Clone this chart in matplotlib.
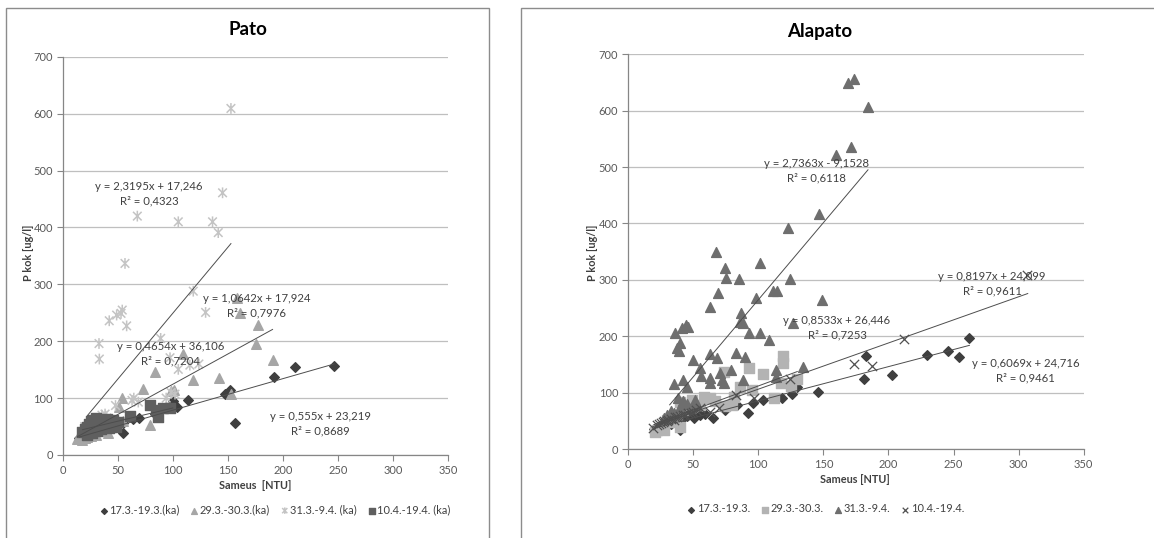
import matplotlib
matplotlib.use("Agg")
import matplotlib.pyplot as plt
from matplotlib.patches import Rectangle
from matplotlib.path import Path
import numpy as np

plt.rcParams['font.family'] = ['Lato', 'DejaVu Sans']

# ---------------- Pato (left) ----------------
pato_labels = ["17.3.-19.3.(ka)", "29.3.-30.3.(ka)", "31.3.-9.4. (ka)", "10.4.-19.4. (ka)"]

pato_d_x = [246.5, 210.8, 192.1, 156.4, 151.8, 147.3, 113.4, 103.4, 100.0, 85.0, 83.8, 69.6, 63.7, 54.5, 55.0, 44.0,
            15, 18, 20, 22, 25, 28, 30, 33, 35, 38, 40, 42, 45, 48]
pato_d_y = [156.4, 154.0, 137.0, 56.8, 114.0, 108.0, 96.7, 85.0, 95.0, 75.6, 72.0, 65.0, 63.4, 55.7, 39.0, 47.0,
            30, 35, 38, 40, 42, 45, 40, 48, 42, 50, 45, 52, 48, 55]

pato_t_x = [158.5, 160.9, 177.0, 175.5, 190.6, 141.9, 118.6, 108.9, 83.8, 72.6, 53.5, 51.4, 79.3, 98.0, 101.0, 152.8, 41.4,
            13, 15, 16, 18, 19, 20, 22, 24, 26, 28, 30, 35, 38, 45, 48, 55]
pato_t_y = [276.5, 249.0, 228.5, 194.5, 166.4, 136.0, 131.8, 178.0, 146.5, 115.4, 100.8, 83.8, 52.1, 112.0, 114.0, 108.0, 39.0,
            28, 30, 33, 27, 35, 30, 32, 38, 34, 40, 36, 42, 45, 50, 52, 60]

pato_c_x = [152.8, 145.2, 67.8, 105.0, 136.1, 141.3, 56.6, 118.6, 129.8, 54.1, 53.0, 49.0, 42.3, 58.1, 33.0, 33.3,
            89.0, 97.5, 105.0, 115.5, 123.7, 102.0, 98.4, 94.0, 64.6, 48.0, 63.0, 68.7, 35.7, 38.5, 20, 25, 30, 40, 45, 25]
pato_c_y = [609.3, 461.0, 420.0, 410.0, 410.0, 391.0, 336.8, 288.0, 250.7, 254.8, 249.0, 246.0, 236.0, 227.0, 196.0, 168.7,
            205.0, 171.0, 150.6, 158.0, 160.0, 107.0, 110.0, 100.0, 100.0, 87.0, 96.0, 93.0, 70.0, 72.0, 50, 55, 60, 65, 62, 45]

pato_s_x = [20, 22, 24, 25, 26, 28, 28, 30, 30, 32, 33, 34, 35, 36, 38, 40, 40, 42, 43, 45, 46, 48, 50, 18, 22, 27, 31,
            61.0, 79.7, 85.0, 86.5, 91.0, 97.5]
pato_s_y = [45, 50, 55, 42, 60, 48, 62, 55, 65, 50, 58, 62, 45, 55, 60, 52, 63, 48, 58, 55, 62, 50, 58, 40, 36, 38, 42,
            69.0, 88.0, 79.0, 67.0, 82.0, 82.0]

pato_fits = [  # slope, intercept, xmin, xmax, text x, text y, label
    (0.555, 23.219, 15, 246.5, 234, 55.6, "y = 0,555x + 23,219\nR² = 0,8689"),
    (1.0642, 17.924, 13, 190.6, 176, 262, "y = 1,0642x + 17,924\nR² = 0,7976"),
    (2.3195, 17.246, 22.4, 152.8, 78.3, 460, "y = 2,3195x + 17,246\nR² = 0,4323"),
    (0.4654, 36.106, 18, 100, 98.3, 178.7, "y = 0,4654x + 36,106\nR² = 0,7204"),
]

# ---------------- Alapato (right) ----------------
ala_labels = ["17.3.-19.3.", "29.3.-30.3.", "31.3.-9.4.", "10.4.-19.4."]

ala_d_x = [262.2, 254.0, 245.5, 229.7, 202.5, 183.0, 181.5, 146.0, 129.8, 126.0, 118.3, 103.4, 95.8, 92.2, 83.7, 74.2,
           65.3, 59.4, 50.4, 40.2, 20, 24, 27, 30, 33, 36, 42, 45, 55]
ala_d_y = [196.3, 164.0, 174.0, 166.8, 130.7, 165.0, 123.6, 101.7, 109.4, 97.6, 91.0, 87.0, 81.0, 63.0, 78.6, 69.0,
           54.4, 61.5, 54.4, 33.7, 35, 40, 44, 47, 45, 50, 55, 58, 60]

ala_s_x = [118.8, 118.8, 92.7, 103.4, 73.5, 129.8, 117.6, 111.9, 95.2, 86.3, 81.2, 74.8, 63.2, 49.2, 40.2, 40.2,
           27.4, 20.5, 30.0, 22, 25, 33, 35, 38, 42, 45, 55, 58, 67, 80, 125]
ala_s_y = [165.0, 152.0, 143.0, 133.0, 137.0, 123.6, 116.5, 91.0, 104.7, 110.6, 92.8, 76.3, 89.9, 87.0, 84.0, 39.6,
           33.7, 30.7, 51.0, 34, 38, 48, 55, 60, 70, 75, 78, 92, 85, 78, 112]

ala_t_x = [173.8, 168.7, 184.3, 171.3, 159.8, 147.0, 123.1, 67.8, 101.4, 74.8, 75.5, 85.5, 124.7, 68.9, 111.1, 114.2,
           98.0, 149.2, 63.2, 86.5, 88.0, 85.8, 35.8, 41.2, 44.5, 46.1, 39.2, 37.6, 40.2, 93.2, 101.4, 108.3, 127.0,
           63.2, 83.0, 89.8, 68.4, 49.9, 55.6, 56.0, 79.4, 88.0, 72.0, 70.4, 62.7, 62.7, 42.2, 35.0, 45.3, 38.1,
           113.9, 113.9, 134.4, 73.5, 51.7, 28, 30, 33, 35, 40, 45, 48, 52, 42]
ala_t_y = [656.4, 650.0, 606.0, 536.4, 521.6, 416.3, 391.5, 350.0, 330.6, 320.5, 302.8, 301.6, 301.6, 277.4, 280.3, 280.3,
           267.3, 264.3, 252.5, 241.9, 223.0, 224.4, 206.4, 214.0, 220.0, 217.0, 173.9, 178.6, 187.5, 205.2, 205.2, 193.4, 223.0,
           168.0, 169.7, 163.8, 160.8, 157.9, 143.0, 129.5, 140.0, 122.4, 122.4, 134.3, 125.4, 116.5, 122.4, 116.0, 110.6, 89.9,
           140.0, 128.0, 146.0, 116.5, 87.0, 55, 60, 68, 63, 75, 80, 72, 78, 85]

ala_x_x = [306.5, 211.7, 173.3, 187.7, 124.7, 97.0, 82.7, 69.6, 63.2, 19.2, 22, 24, 25, 27, 28, 30, 31, 33, 35, 36, 38,
           40, 42, 44, 46, 48, 50, 52, 55]
ala_x_y = [308.0, 195.0, 150.2, 146.7, 123.6, 91.0, 95.7, 72.0, 66.0, 36.7, 42, 44, 46, 48, 50, 49, 52, 54, 52, 56, 57,
           58, 60, 61, 63, 64, 66, 70, 72]

ala_fits = [
    (0.6069, 24.716, 20, 262.2, 305.2, 138.4, "y = 0,6069x + 24,716\nR² = 0,9461"),
    (0.8533, 26.446, 20, 130, 160.5, 215, "y = 0,8533x + 26,446\nR² = 0,7253"),
    (2.7363, -9.1528, 32, 184.3, 144.6, 494, "y = 2,7363x - 9,1528\nR² = 0,6118"),
    (0.8197, 24.099, 19, 307, 279.6, 292.7, "y = 0,8197x + 24,099\nR² = 0,9611"),
]

# Excel-style star marker: X with a vertical bar
star = Path([(-1, -1), (1, 1), (-1, 1), (1, -1), (0, -1.25), (0, 1.25)],
            [Path.MOVETO, Path.LINETO, Path.MOVETO, Path.LINETO, Path.MOVETO, Path.LINETO])

# ---------------- figure ----------------
fig = plt.figure(figsize=(11.54, 5.38), dpi=100)
fig.patch.set_facecolor('white')

for (x0, w) in [(0.0052, 0.4185), (0.4515, 0.56)]:
    fig.patches.append(Rectangle((x0, -0.02), w, 1.005, transform=fig.transFigure,
                                 fill=False, edgecolor='#8c8c8c', linewidth=1.0))

axL = fig.add_axes([0.0543, 0.1543, 0.334, 0.740])
axR = fig.add_axes([0.5442, 0.1654, 0.3949, 0.7336])

tick_col = '#595959'
for ax in (axL, axR):
    ax.set_xlim(0, 350)
    ax.set_ylim(0, 700)
    ax.set_xticks(np.arange(0, 351, 50))
    ax.set_yticks(np.arange(0, 701, 100))
    ax.grid(axis='y', color='#bfbfbf', linewidth=0.9)
    ax.set_axisbelow(True)
    for s in ('top', 'right'):
        ax.spines[s].set_visible(False)
    for s in ('left', 'bottom'):
        ax.spines[s].set_color('#868686')
        ax.spines[s].set_linewidth(0.9)
    ax.tick_params(axis='both', direction='out', length=4, width=0.8, color='#868686',
                   labelsize=8, labelcolor=tick_col, pad=3)

line_col = '#4d4d4d'
ann_kw = dict(fontsize=8.2, color='#404040', ha='center', va='center', linespacing=1.35)

# Pato series
h1 = axL.scatter(pato_d_x, pato_d_y, marker='D', s=24, color='#3f3f3f', label=pato_labels[0], zorder=3)
h2 = axL.scatter(pato_t_x, pato_t_y, marker='^', s=48, color='#a6a6a6', label=pato_labels[1], zorder=3)
h3 = axL.scatter(pato_c_x, pato_c_y, marker=star, s=60, facecolor='none', edgecolor='#c4c4c4', linewidths=1.1,
                 label=pato_labels[2], zorder=3)
h4 = axL.scatter(pato_s_x, pato_s_y, marker='s', s=42, color='#5f5f5f', label=pato_labels[3], zorder=3)
for m, b, xa, xb, tx, ty, lab in pato_fits:
    xs = np.array([xa, xb])
    axL.plot(xs, m * xs + b, color=line_col, linewidth=0.7, zorder=4)
    axL.text(tx, ty, lab, zorder=5, **ann_kw)

# Alapato series
g1 = axR.scatter(ala_d_x, ala_d_y, marker='D', s=24, color='#3f3f3f', label=ala_labels[0], zorder=3)
g2 = axR.scatter(ala_s_x, ala_s_y, marker='s', s=42, color='#b3b3b3', label=ala_labels[1], zorder=3)
g3 = axR.scatter(ala_t_x, ala_t_y, marker='^', s=50, color='#6e6e6e', label=ala_labels[2], zorder=3)
g4 = axR.scatter(ala_x_x, ala_x_y, marker='x', s=45, color='#505050', linewidths=0.9, label=ala_labels[3], zorder=3)
for m, b, xa, xb, tx, ty, lab in ala_fits:
    xs = np.array([xa, xb])
    axR.plot(xs, m * xs + b, color=line_col, linewidth=0.7, zorder=4)
    axR.text(tx, ty, lab, zorder=5, **ann_kw)

# titles & labels
fig.text(0.215, 0.946, "Pato", ha='center', va='center', fontsize=13.5, fontweight='bold', color='black')
fig.text(0.7106, 0.942, "Alapato", ha='center', va='center', fontsize=13.5, fontweight='bold', color='black')
fig.text(0.221, 0.097, "Sameus  [NTU]", ha='center', va='center', fontsize=7.8, fontweight='bold', color='#404040')
fig.text(0.741, 0.108, "Sameus [NTU]", ha='center', va='center', fontsize=7.8, fontweight='bold', color='#404040')
fig.text(0.025, 0.53, "P kok [ug/l]", ha='center', va='center', rotation=90, fontsize=7.8, fontweight='bold', color='#404040')
fig.text(0.513, 0.53, "P kok [ug/l]", ha='center', va='center', rotation=90, fontsize=7.8, fontweight='bold', color='#404040')

leg_kw = dict(ncol=4, frameon=False, fontsize=7.9, handletextpad=0.05, columnspacing=0.9,
              handlelength=0.9, markerscale=0.6, labelcolor='#404040')
fig.legend(handles=[h1, h2, h3, h4], loc='center', bbox_to_anchor=(0.238, 0.052), **leg_kw)
fig.legend(handles=[g1, g2, g3, g4], loc='center', bbox_to_anchor=(0.715, 0.054), **leg_kw)

fig.savefig("out.png", dpi=100, facecolor='white')
